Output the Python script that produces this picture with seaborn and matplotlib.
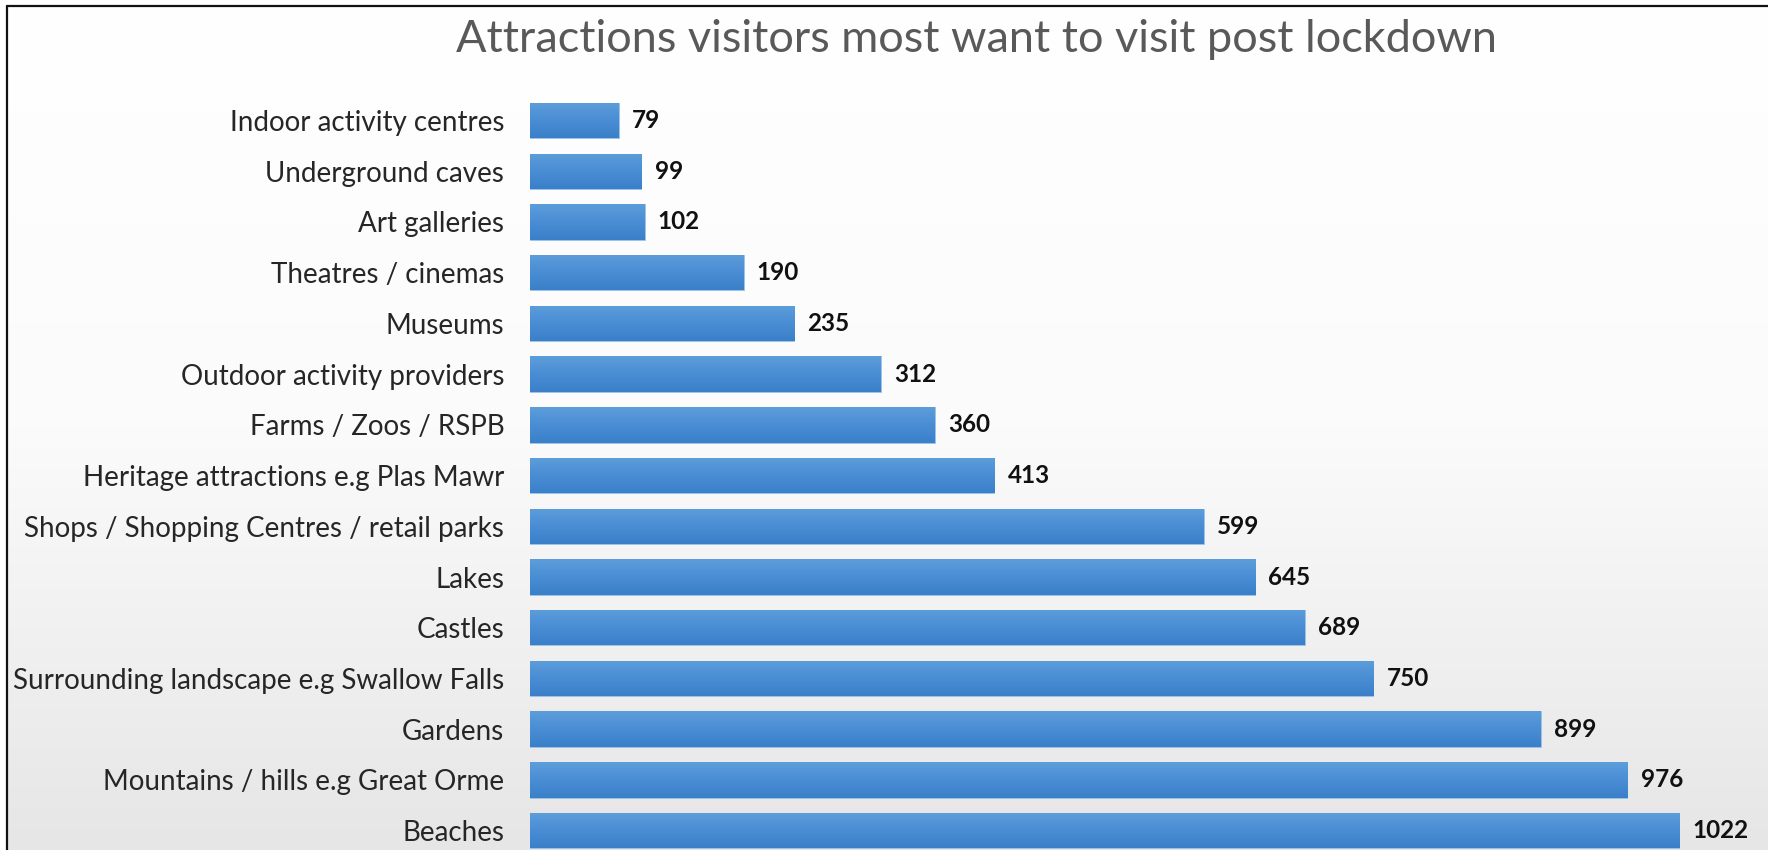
import matplotlib.pyplot as plt
import numpy as np
import pandas as pd
import seaborn as sns
from matplotlib.colors import LinearSegmentedColormap
from matplotlib.lines import Line2D

# Data (top to bottom as shown)
attractions = [
    "Indoor activity centres",
    "Underground caves",
    "Art galleries",
    "Theatres / cinemas",
    "Museums",
    "Outdoor activity providers",
    "Farms / Zoos / RSPB",
    "Heritage attractions e.g Plas Mawr",
    "Shops / Shopping Centres / retail parks",
    "Lakes",
    "Castles",
    "Surrounding landscape e.g Swallow Falls",
    "Gardens",
    "Mountains / hills e.g Great Orme",
    "Beaches",
]
visitors = [79, 99, 102, 190, 235, 312, 360, 413, 599, 645, 689, 750, 899, 976, 1022]
title = "Attractions visitors most want to visit post lockdown"

df = pd.DataFrame({"attraction": attractions, "visitors": visitors})

sns.set_style("white")
plt.rcParams["font.family"] = ["Lato", "DejaVu Sans"]

W, H = 1768, 850
fig = plt.figure(figsize=(W / 100, H / 100), dpi=100)
fig.patch.set_facecolor("white")

# background gradient inside the frame
bg = fig.add_axes([8 / W, 0, 1 - 8 / W, 1 - 6 / H], zorder=0)
bg_cmap = LinearSegmentedColormap.from_list("bg", ["#ffffff", "#fbfbfb", "#e6e6e6"])
bg.imshow(np.linspace(0, 1, 256).reshape(-1, 1), aspect="auto", cmap=bg_cmap,
          extent=(0, 1, 0, 1), origin="upper")
bg.set_axis_off()

ax = fig.add_axes([530 / W, -0.007, 1 - 530 / W, 0.895], zorder=1)
ax.patch.set_alpha(0)

sns.barplot(data=df, x="visitors", y="attraction", orient="h", color="#4a8fd6",
            width=0.7, ax=ax, errorbar=None)

ax.set_xlim(0, 1101)
ylim = ax.get_ylim()

# gradient fill for bars
bar_cmap = LinearSegmentedColormap.from_list("bar", ["#5d9ddb", "#4a8dd4", "#3a80c9"])
grad = np.linspace(0, 1, 64).reshape(-1, 1)
for p in ax.patches:
    x0, y0 = p.get_x(), p.get_y()
    w, h = p.get_width(), p.get_height()
    p.set_edgecolor("#9cc3ea")
    p.set_linewidth(0.6)
    im = ax.imshow(grad, aspect="auto", cmap=bar_cmap, origin="upper",
                   extent=(x0, x0 + w, y0 + h, y0), zorder=p.get_zorder() + 0.1)
    im.set_clip_path(p)

ax.set_xlim(0, 1101)
ax.set_ylim(ylim)

ax.bar_label(ax.containers[0], labels=[str(v) for v in visitors], padding=9.5,
             fontsize=17.5, fontweight="bold", color="#111111")

ax.set_xlabel("")
ax.set_ylabel("")
ax.set_xticks([])
ax.tick_params(axis="y", length=0, pad=18.5, labelsize=20, labelcolor="#262626")
for s in ax.spines.values():
    s.set_visible(False)

fig.text(976 / W, 1 - 40 / H, title, ha="center", va="center",
         fontsize=32.5, color="#595959")

# frame lines (top and left)
fig.add_artist(Line2D([7 / W, 7 / W], [0, 1 - 5.5 / H], transform=fig.transFigure,
                      color="#111111", lw=1.6))
fig.add_artist(Line2D([7 / W, 1], [1 - 5.5 / H, 1 - 5.5 / H], transform=fig.transFigure,
                      color="#111111", lw=1.6))

fig.savefig("out.png", dpi=100)
